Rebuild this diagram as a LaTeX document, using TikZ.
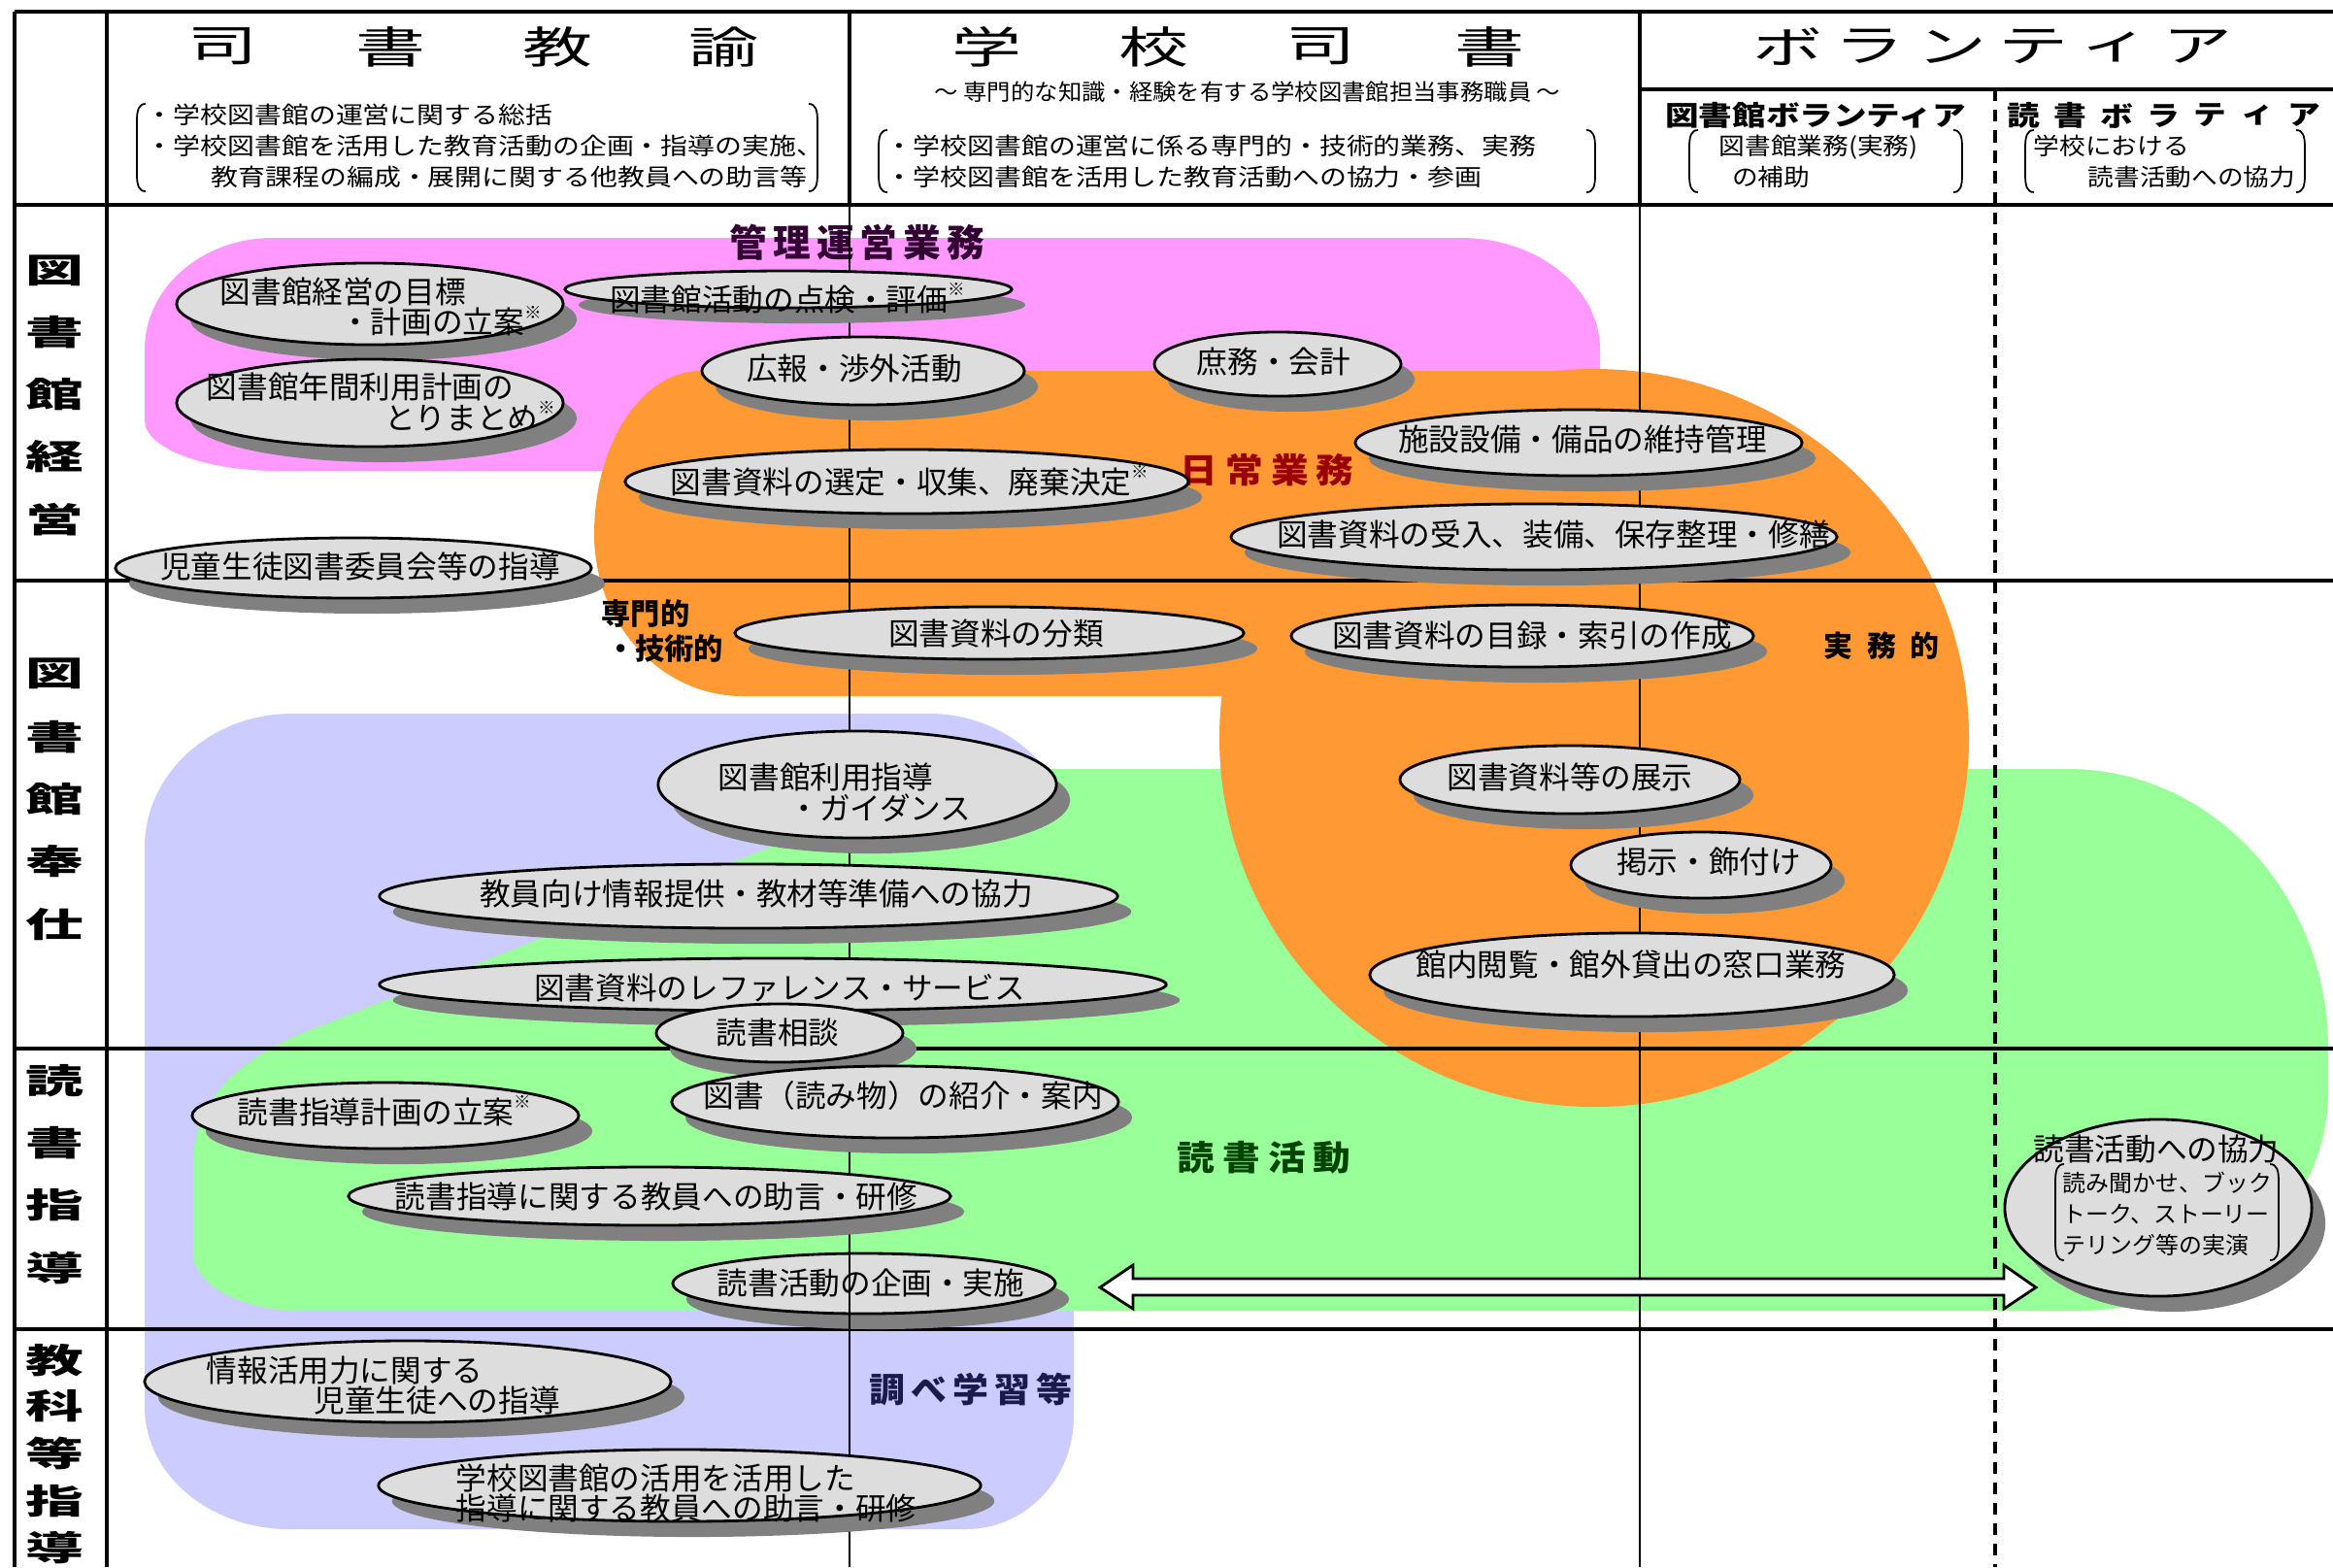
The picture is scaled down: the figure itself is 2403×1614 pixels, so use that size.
\documentclass[tikz,border=0pt]{standalone}
\usepackage{fontspec}
\usepackage{graphicx}
\setmainfont{Noto Sans CJK JP}
\usetikzlibrary{shapes.geometric,shadows}
\definecolor{pinkR}{HTML}{FF99FF}
\definecolor{orangeR}{HTML}{FF9933}
\definecolor{greenR}{HTML}{99FF99}
\definecolor{blueR}{HTML}{CCCCFF}
\definecolor{ellF}{HTML}{DDDDDD}
\definecolor{shadowG}{HTML}{808080}
\definecolor{purpleL}{HTML}{330033}
\definecolor{redL}{HTML}{990000}
\definecolor{greenL}{HTML}{004400}
\definecolor{navyL}{HTML}{1A1A4D}
\newcommand{\hsc}[2]{\scalebox{#1}[1]{#2}}
\newcommand{\kome}{\raisebox{0.5em}{\fontsize{5}{5}\selectfont ※}}
\newcommand{\lbrk}[3]{\draw[brk] (#1+9,#2) .. controls (#1+2,#2) and (#1,#2+6) .. (#1,#2+18) -- (#1,#3-18) .. controls (#1,#3-6) and (#1+2,#3) .. (#1+9,#3);}
\newcommand{\rbrk}[3]{\draw[brk] (#1-9,#2) .. controls (#1-2,#2) and (#1,#2+6) .. (#1,#2+18) -- (#1,#3-18) .. controls (#1,#3-6) and (#1-2,#3) .. (#1-9,#3);}
\begin{document}
\begin{tikzpicture}[x=0.01cm,y=-0.01cm,
  bub/.style={ellipse,draw=black,line width=0.8pt,fill=ellF,inner sep=0pt,outer sep=0pt,
    drop shadow={shadow xshift=0.14cm,shadow yshift=-0.16cm,fill=shadowG,opacity=1}},
  etxt/.style={font=\fontsize{9}{9}\selectfont,inner sep=0pt,align=left},
  btxt/.style={font=\fontsize{6.9}{9.1}\selectfont,inner sep=0pt,align=left},
  hdr/.style={font=\fontsize{12.8}{13}\selectfont,inner sep=0pt},
  rowh/.style={font=\fontsize{10}{10}\selectfont\bfseries,inner sep=0pt},
  vsub/.style={font=\fontsize{8}{8}\selectfont\bfseries,inner sep=0pt},
  thk/.style={line width=1.4pt},
  thn/.style={line width=0.7pt},
  brk/.style={line width=0.5pt},
  lbl/.style={inner sep=0pt}
]
\useasboundingbox (0,0) rectangle (2403,1614);
\fill[white] (0,0) rectangle (2403,1614);

% ---------- coloured regions ----------
\fill[pinkR] (149,433) -- (149,360) arc[start angle=180,end angle=270,x radius=132,y radius=115]
  -- (1505,245) arc[start angle=-90,end angle=0,x radius=143,y radius=115]
  -- (1648,485) -- (287,485) arc[start angle=90,end angle=180,x radius=138,y radius=52] -- cycle;
\fill[blueR] (149,873) arc[start angle=180,end angle=270,x radius=152,y radius=138]
  -- (957,735) arc[start angle=-90,end angle=0,x radius=149,y radius=140]
  -- (1106,1459) arc[start angle=0,end angle=90,x radius=111,y radius=116]
  -- (298,1575) arc[start angle=90,end angle=180,x radius=149,y radius=126] -- cycle;
\fill[greenR] (1080,792) -- (2130,792) arc[start angle=-90,end angle=0,x radius=268,y radius=288]
  -- (2398,1125) arc[start angle=0,end angle=90,x radius=257,y radius=225]
  -- (310,1350) arc[start angle=90,end angle=180,x radius=111,y radius=60]
  -- (199,1200) .. controls (199,1130) and (250,1085) .. (335,1055)
  -- (800,870) .. controls (900,828) and (980,792) .. (1080,792) -- cycle;
\fill[orangeR] (722,382) -- (1640,382) -- (1640,717) -- (765,717)
  arc[start angle=90,end angle=180,x radius=153,y radius=167]
  arc[start angle=180,end angle=270,x radius=110,y radius=168] -- cycle;
\fill[orangeR] (1642,760) ellipse[x radius=386,y radius=380];

% ---------- region labels ----------
\node[lbl,text=purpleL,font=\fontsize{11}{11}\selectfont\bfseries] (L1) at (883,250)
  {管\hspace{0.06cm}理\hspace{0.06cm}運\hspace{0.06cm}営\hspace{0.06cm}業\hspace{0.06cm}務};
\node[lbl,text=redL,font=\fontsize{10}{10}\selectfont\bfseries] (L2) at (1305,484)
  {\hsc{1.1}{日}\hspace{0.08cm}\hsc{1.1}{常}\hspace{0.08cm}\hsc{1.1}{業}\hspace{0.08cm}\hsc{1.1}{務}};
\node[lbl,text=greenL,font=\fontsize{10}{10}\selectfont\bfseries] (L3) at (1302,1192)
  {\hsc{1.1}{読}\hspace{0.08cm}\hsc{1.1}{書}\hspace{0.08cm}\hsc{1.1}{活}\hspace{0.08cm}\hsc{1.1}{動}};
\node[lbl,text=navyL,font=\fontsize{10}{10}\selectfont\bfseries] (L4) at (1000,1431)
  {\hsc{1.05}{調}\hspace{0.06cm}\hsc{1.05}{べ}\hspace{0.06cm}\hsc{1.05}{学}\hspace{0.06cm}\hsc{1.05}{習}\hspace{0.06cm}\hsc{1.05}{等}};
\node[lbl,font=\fontsize{8.6}{10}\selectfont\bfseries,align=left,anchor=west] (L5) at (619,650) {専門的\\\hspace*{0.15em}・技術的};
\node[lbl,font=\fontsize{8.5}{10}\selectfont\bfseries] (L6) at (1938,665) {実\hspace{0.15cm}務\hspace{0.15cm}的};

% ---------- grid ----------
\draw[thk] (15,12) -- (2403,12);
\draw[thk] (15,12) -- (15,1614);
\draw[thk] (110,12) -- (110,1614);
\draw[thk] (15,211) -- (2403,211);
\draw[thk] (15,598) -- (2403,598);
\draw[thk] (15,1080) -- (2403,1080);
\draw[thk] (15,1369) -- (2403,1369);
\draw[thk] (875,12) -- (875,211);
\draw[thn] (875,211) -- (875,1614);
\draw[thk] (1689,12) -- (1689,211);
\draw[thn] (1689,211) -- (1689,1614);
\draw[thk] (1689,92) -- (2403,92);
\draw[line width=0.9pt,dash pattern=on 3.5pt off 2.5pt] (2055,92) -- (2055,1614);

% ---------- header ----------
\foreach \c/\x [count=\i] in {司/230,書/403,教/575,諭/746}
  \node[hdr] (ha\i) at (\x,48) {\hsc{1.6}{\c}};
\foreach \c/\x [count=\i] in {学/1016,校/1188,司/1360,書/1534}
  \node[hdr] (hb\i) at (\x,48) {\hsc{1.6}{\c}};
\foreach \c/\x [count=\i] in {ボ/1841,ラ/1925,ン/2010,テ/2094,ィ/2178,ア/2263}
  \node[hdr] (hc\i) at (\x,48) {\hsc{1.6}{\c}};
\node[font=\fontsize{6.6}{7}\selectfont,inner sep=0pt] (sub) at (1285,95)
  {\hsc{1.05}{～ 専門的な知識・経験を有する学校図書館担当事務職員 ～}};
\node[btxt,anchor=west] (b1) at (150,150)
  {\hsc{1.15}{・学校図書館の運営に関する総括}\\
   \hsc{1.15}{・学校図書館を活用した教育活動の企画・指導の実施、}\\
   \hsc{1.15}{\hspace*{2.4em}教育課程の編成・展開に関する他教員への助言等}};
\lbrk{141}{107}{197}
\rbrk{842}{107}{197}
\node[btxt,anchor=west] (b2) at (912,166)
  {\hsc{1.15}{・学校図書館の運営に係る専門的・技術的業務、実務}\\
   \hsc{1.15}{・学校図書館を活用した教育活動への協力・参画}};
\lbrk{905}{134}{198}
\rbrk{1643}{134}{198}
\node[vsub] (v1) at (1870,119) {\hsc{1.23}{図書館ボランティア}};
\foreach \c [count=\i] in {読,書,ボ,ラ,テ,ィ,ア}
  \node[vsub] (v2\i) at ({2084+48.2*(\i-1)},119) {\hsc{1.2}{\c}};
\node[btxt,anchor=west] (b3) at (1770,166)
  {\hsc{1.1}{図書館業務(実務)}\\ \hsc{1.1}{\hspace*{0.5em}の補助}};
\lbrk{1740}{134}{198}
\rbrk{2021}{134}{198}
\node[btxt,anchor=west] (b4) at (2094,166)
  {\hsc{1.1}{学校における}\\ \hsc{1.1}{\hspace*{2.1em}読書活動への協力}};
\lbrk{2086}{134}{198}
\rbrk{2374}{134}{198}

% ---------- row headers ----------
\foreach \c/\y [count=\i] in {図/279,書/342,館/406,経/470,営/535}
  \node[rowh] (ra\i) at (56,\y) {\hsc{1.7}{\c}};
\foreach \c/\y [count=\i] in {図/694,書/759,館/823,奉/887,仕/952}
  \node[rowh] (rb\i) at (56,\y) {\hsc{1.7}{\c}};
\foreach \c/\y [count=\i] in {読/1113,書/1177,指/1241,導/1306}
  \node[rowh] (rc\i) at (56,\y) {\hsc{1.7}{\c}};
\foreach \c/\y [count=\i] in {教/1401,科/1448,等/1497,指/1546,導/1594}
  \node[rowh] (rd\i) at (56,\y) {\hsc{1.7}{\c}};

% ---------- ellipses ----------
\node[bub,minimum width=3.98cm,minimum height=0.84cm] (e1) at (381,313) {};
\node[bub,minimum width=3.98cm,minimum height=0.90cm] (e3) at (381,415) {};
\node[bub,minimum width=4.60cm,minimum height=0.38cm] (e2) at (812,298) {};
\node[bub,minimum width=3.32cm,minimum height=0.70cm] (e4) at (889,382) {};
\node[bub,minimum width=2.54cm,minimum height=0.66cm] (e5) at (1316,375) {};
\node[bub,minimum width=4.60cm,minimum height=0.68cm] (e6) at (1626,456) {};
\node[bub,minimum width=5.80cm,minimum height=0.66cm] (e7) at (934,496) {};
\node[bub,minimum width=6.24cm,minimum height=0.68cm] (e8) at (1580,553) {};
\node[bub,minimum width=4.90cm,minimum height=0.62cm] (e9) at (364,585) {};
\node[bub,minimum width=5.24cm,minimum height=0.54cm] (e10) at (1019,652) {};
\node[bub,minimum width=4.76cm,minimum height=0.64cm] (e11) at (1568,655) {};
\node[bub,minimum width=4.10cm,minimum height=1.10cm] (e12) at (883,808) {};
\node[bub,minimum width=3.50cm,minimum height=0.70cm] (e13) at (1617,803) {};
\node[bub,minimum width=2.68cm,minimum height=0.68cm] (e14) at (1752,891) {};
\node[bub,minimum width=7.60cm,minimum height=0.66cm] (e15) at (771,923) {};
\node[bub,minimum width=5.40cm,minimum height=0.86cm] (e16) at (1681,1004) {};
\node[bub,minimum width=8.10cm,minimum height=0.54cm] (e17) at (796,1014) {};
\node[bub,minimum width=2.54cm,minimum height=0.60cm] (e18) at (803,1064) {};
\node[bub,minimum width=3.98cm,minimum height=0.68cm] (e19) at (397,1149) {};
\node[bub,minimum width=4.60cm,minimum height=0.74cm] (e20) at (922,1135) {};
\node[bub,minimum width=6.20cm,minimum height=0.60cm] (e21) at (669,1232) {};
\node[bub,minimum width=3.94cm,minimum height=0.62cm] (e22) at (890,1322) {};
\node[bub,minimum width=5.42cm,minimum height=0.84cm] (e23) at (420,1423) {};
\node[bub,minimum width=6.20cm,minimum height=0.74cm] (e24) at (700,1530) {};
\node[bub,minimum width=3.16cm,minimum height=1.82cm] (e25) at (2223,1244) {};
\draw[thn] (875,1280) -- (875,1369);

% ---------- ellipse texts ----------
\node[etxt,anchor=west] (t1) at (226,316) {図書館経営の目標\\\hspace*{3.9em}・計画の立案\kome};
\node[etxt] (t2) at (811,307) {図書館活動の点検・評価\kome};
\node[etxt,anchor=west] (t3) at (212,414) {図書館年間利用計画の\\\hspace*{5.8em}とりまとめ\kome};
\node[etxt] (t4) at (880,380) {広報・渉外活動};
\node[etxt] (t5) at (1312,372) {庶務・会計};
\node[etxt] (t6) at (1630,452) {施設設備・備品の維持管理};
\node[etxt] (t7) at (937,495) {図書資料の選定・収集、廃棄決定\kome};
\node[etxt] (t8) at (1600,550) {図書資料の受入、装備、保存整理・修繕};
\node[etxt] (t9) at (371,583) {児童生徒図書委員会等の指導};
\node[etxt] (t10) at (1026,653) {図書資料の分類};
\node[etxt] (t11) at (1578,655) {図書資料の目録・索引の作成};
\node[etxt,anchor=west] (t12) at (739,816) {図書館利用指導\\\hspace*{2.3em}・ガイダンス};
\node[etxt] (t13) at (1617,800) {図書資料等の展示};
\node[etxt] (t14) at (1760,887) {掲示・飾付け};
\node[etxt] (t15) at (779,920) {教員向け情報提供・教材等準備への協力};
\node[etxt] (t16) at (1680,993) {館内閲覧・館外貸出の窓口業務};
\node[etxt] (t17) at (803,1017) {図書資料のレファレンス・サービス};
\node[etxt] (t18) at (801,1063) {読書相談};
\node[etxt] (t19) at (396,1144) {読書指導計画の立案\kome};
\node[etxt] (t20) at (930,1128) {図書（読み物）の紹介・案内};
\node[etxt] (t21) at (676,1232) {読書指導に関する教員への助言・研修};
\node[etxt] (t22) at (897,1321) {読書活動の企画・実施};
\node[etxt,anchor=west] (t23) at (212,1427) {情報活用力に関する\\\hspace*{3.5em}児童生徒への指導};
\node[etxt,anchor=west] (t24) at (469,1538) {学校図書館の活用を活用した\\指導に関する教員への助言・研修};
\node[etxt] (t25) at (2221,1183) {読書活動への協力};
\node[font=\fontsize{6.8}{9.1}\selectfont,inner sep=0pt,align=left,anchor=west] (t26) at (2124,1250)
  {読み聞かせ、ブック\\トーク、ストーリー\\テリング等の実演};
\lbrk{2117}{1199}{1298}
\rbrk{2347}{1199}{1298}

% ---------- double arrow ----------
\coordinate (arL) at (1133,1326);
\coordinate (arR) at (2097,1326);
\draw[line width=0.8pt,fill=white] (arL) -- (1167,1303) -- (1167,1317) -- (2064,1317) -- (2064,1303)
  -- (arR) -- (2064,1348) -- (2064,1334) -- (1167,1334) -- (1167,1348) -- cycle;
\end{tikzpicture}
\end{document}
